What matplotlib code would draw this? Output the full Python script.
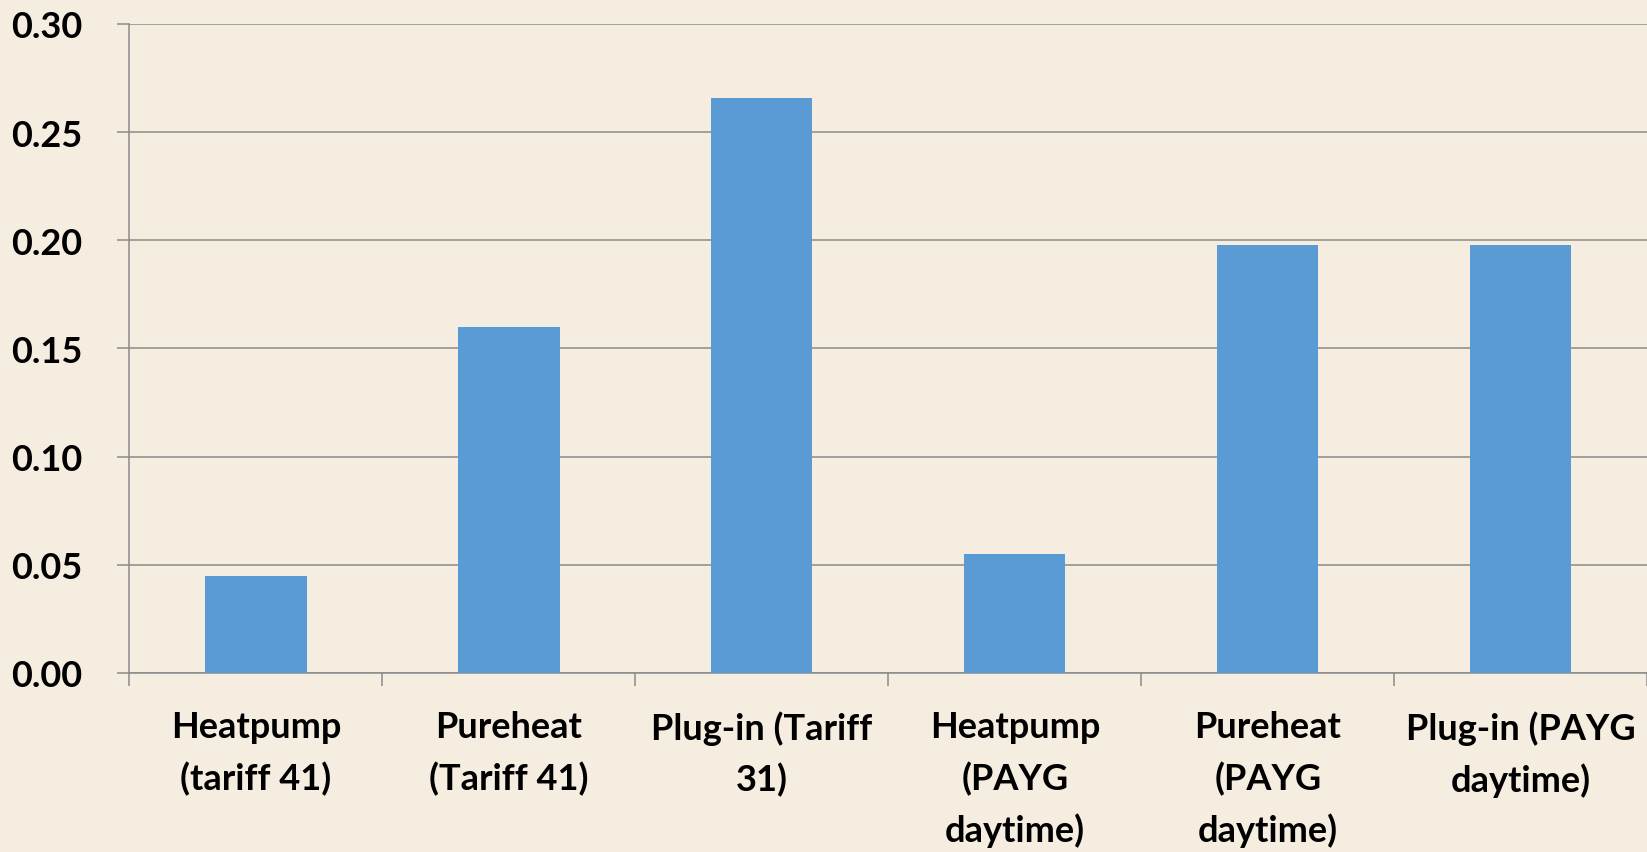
import numpy as np
import matplotlib
matplotlib.use('Agg')
import matplotlib.pyplot as plt

# 데이터
labels = ['Heatpump\n(tariff 41)', 'Pureheat\n(Tariff 41)', 'Plug-in (Tariff\n31)',
          'Heatpump\n(PAYG\ndaytime)', 'Pureheat\n(PAYG\ndaytime)', 'Plug-in (PAYG\ndaytime)']
values = [0.045, 0.160, 0.266, 0.055, 0.198, 0.198]
yticks = [0.00, 0.05, 0.10, 0.15, 0.20, 0.25, 0.30]

bg = '#F5EDDF'
bar_color = '#5B9BD5'
grid_color = '#8A8A8A'

plt.rcParams['font.family'] = ['Lato', 'DejaVu Sans']

fig = plt.figure(figsize=(16.47, 8.53), dpi=100, facecolor=bg)
ax = fig.add_axes([0.0786, 0.2099, 0.9216, 0.7608], facecolor=bg)

x = np.arange(len(values))
ax.bar(x, values, width=0.40, color=bar_color, zorder=3)

ax.set_xlim(-0.5, len(values) - 0.5)
ax.set_ylim(0, 0.30)

# y축
ax.set_yticks(yticks)
ax.set_yticklabels([f'{v:.2f}' for v in yticks], fontsize=26, fontweight='bold')
ax.yaxis.grid(True, color=grid_color, linewidth=1.1, zorder=0)
ax.tick_params(axis='y', length=9, width=1.1, color=grid_color, pad=25)

# x축: 경계에 눈금, 가운데에 라벨
ax.set_xticks(np.arange(-0.5, len(values)), minor=False)
ax.set_xticklabels([])
ax.set_xticks(x, minor=True)
ax.set_xticklabels(labels, minor=True, fontsize=26, fontweight='bold', linespacing=1.6)
ax.tick_params(axis='x', which='major', length=9, width=1.1, color=grid_color)
ax.tick_params(axis='x', which='minor', length=0, pad=27)

for side in ['top', 'right']:
    ax.spines[side].set_visible(False)
for side in ['left', 'bottom']:
    ax.spines[side].set_color(grid_color)
    ax.spines[side].set_linewidth(1.1)

fig.savefig('out.png', dpi=100, facecolor=bg)
